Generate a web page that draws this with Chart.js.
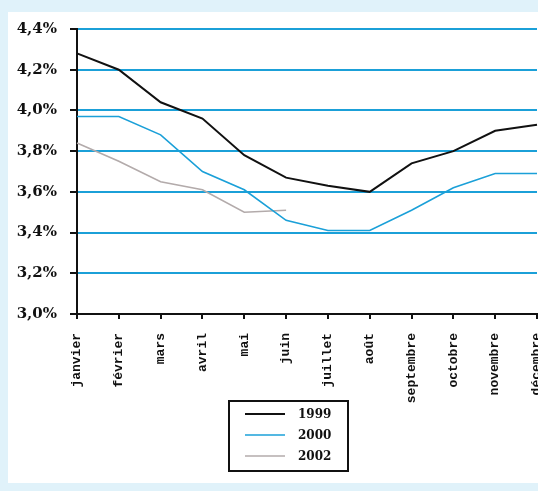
<!DOCTYPE html>
<html lang="fr">
<head>
<meta charset="utf-8">
<title>Taux mensuels</title>
<script src="https://cdn.jsdelivr.net/npm/chart.js@4/dist/chart.umd.min.js"></script>
<style>
  html, body { margin: 0; padding: 0; }
  body { width: 538px; height: 491px; background: #e0f2fa; position: relative; overflow: hidden; }
  #panel { position: absolute; left: 8px; top: 12px; width: 530px; height: 471px; background: #ffffff; }
  #chart { position: absolute; left: 0; top: 0; }
</style>
</head>
<body>
<div id="panel"></div>
<canvas id="chart" width="538" height="491"></canvas>
<script>
// Months on the horizontal axis
const months = ['janvier', 'février', 'mars', 'avril', 'mai', 'juin',
                'juillet', 'août', 'septembre', 'octobre', 'novembre', 'décembre'];

// Monthly rates, in percent
const series1999 = [4.28, 4.20, 4.04, 3.96, 3.78, 3.67, 3.63, 3.60, 3.74, 3.80, 3.90, 3.93];
const series2000 = [3.97, 3.97, 3.88, 3.70, 3.61, 3.46, 3.41, 3.41, 3.51, 3.62, 3.69, 3.69];
const series2002 = [3.84, 3.75, 3.65, 3.61, 3.50, 3.51];

// Series names shown in the legend
const seriesNames = ['1999', '2000', '2002'];

// Vertical axis ticks
const yTickValues = [3.0, 3.2, 3.4, 3.6, 3.8, 4.0, 4.2, 4.4];

const BLUE = '#1ba0d8';

// Boxed legend drawn under the plot
const boxLegend = {
  id: 'boxLegend',
  afterDraw(chart) {
    const ctx = chart.ctx;
    ctx.save();
    ctx.strokeStyle = '#111';
    ctx.lineWidth = 2;
    ctx.strokeRect(229, 401, 119, 70);
    const rows = [414, 435, 456];
    chart.data.datasets.forEach((ds, i) => {
      const y = rows[i];
      ctx.beginPath();
      ctx.strokeStyle = ds.borderColor;
      ctx.lineWidth = ds.borderWidth;
      ctx.moveTo(245, y);
      ctx.lineTo(285, y);
      ctx.stroke();
      ctx.fillStyle = '#111';
      ctx.font = 'bold 12px "DejaVu Serif"';
      ctx.textBaseline = 'middle';
      ctx.textAlign = 'left';
      ctx.fillText(ds.label, 298, y + 1);
    });
    ctx.restore();
  }
};

new Chart(document.getElementById('chart'), {
  type: 'line',
  data: {
    labels: months,
    datasets: [
      { label: seriesNames[0], data: series1999, borderColor: '#111111', borderWidth: 2 },
      { label: seriesNames[1], data: series2000, borderColor: BLUE, borderWidth: 1.6 },
      { label: seriesNames[2], data: series2002, borderColor: '#b3abab', borderWidth: 1.6 }
    ]
  },
  options: {
    responsive: false,
    animation: false,
    devicePixelRatio: 1,
    layout: { padding: { left: 0, right: 1, top: 29, bottom: 0 } },
    elements: {
      line: { tension: 0, fill: false },
      point: { radius: 0, hoverRadius: 0 }
    },
    plugins: {
      legend: { display: false },
      tooltip: { enabled: false }
    },
    scales: {
      x: {
        offset: false,
        grid: { drawOnChartArea: false, tickColor: '#111', tickLength: 5, lineWidth: 2 },
        border: { color: '#111', width: 2 },
        ticks: {
          color: '#111',
          autoSkip: false,
          minRotation: 90,
          maxRotation: 90,
          padding: 14,
          font: { family: '"Liberation Mono"', size: 13, weight: 'bold' }
        },
        afterFit(scale) {
          scale.height = 491 - 314;
          scale.paddingLeft = 0;
          scale.paddingRight = 0;
        }
      },
      y: {
        min: 3.0,
        max: 4.4,
        afterBuildTicks(scale) {
          scale.ticks = yTickValues.map(v => ({ value: v }));
        },
        grid: {
          color: ctx => (ctx.tick && ctx.tick.value === 3.0 ? '#111' : BLUE),
          lineWidth: 2,
          tickColor: '#111',
          tickLength: 7
        },
        border: { color: '#111', width: 2 },
        ticks: {
          color: '#111',
          padding: 13,
          font: { family: '"DejaVu Serif"', size: 15, weight: 'bold' },
          callback: v => v.toFixed(1).replace('.', ',') + '%'
        },
        afterFit(scale) {
          scale.width = 77;
          scale.paddingTop = 0;
          scale.paddingBottom = 0;
        }
      }
    }
  },
  plugins: [boxLegend]
});
</script>
</body>
</html>
